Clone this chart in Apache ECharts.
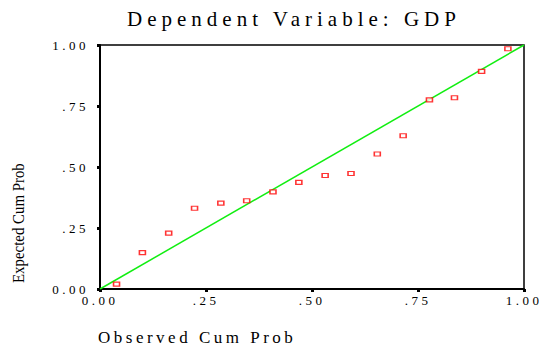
<!DOCTYPE html>
<html>
<head>
<meta charset="utf-8">
<script src="https://cdn.jsdelivr.net/npm/echarts@6/dist/echarts.min.js"></script>
<style>
  html, body { margin: 0; padding: 0; background: #fff; }
  #chart { width: 539px; height: 347px; }
</style>
</head>
<body>
<div id="chart"></div>
<script>
// Normal P-P plot of regression standardized residuals
const observedCumProb = [0.039, 0.100, 0.162, 0.223, 0.285, 0.346, 0.408, 0.469,
                         0.531, 0.592, 0.654, 0.715, 0.777, 0.836, 0.900, 0.962];
const expectedCumProb = [0.020, 0.149, 0.229, 0.331, 0.352, 0.362, 0.398, 0.437,
                         0.465, 0.473, 0.553, 0.628, 0.775, 0.784, 0.892, 0.985];
const xTickLabels = ['0.00', '.25', '.50', '.75', '1.00'];
const yTickLabels = ['0.00', '.25', '.50', '.75', '1.00'];
const referenceLine = [[0, 0], [1, 1]];

const titleText = 'Dependent Variable: GDP';
const xName = 'Observed Cum Prob';
const yName = 'Expected Cum Prob';

const serif = '"Liberation Serif", "Times New Roman", serif';

const chart = echarts.init(document.getElementById('chart'), null, { renderer: 'svg' });

const points = observedCumProb.map((x, i) => [x, expectedCumProb[i]]);

chart.setOption({
  animation: false,
  backgroundColor: '#fff',
  grid: {
    left: 100, right: 15, top: 45, bottom: 58,
    show: true, borderColor: '#000', borderWidth: 1.5, backgroundColor: 'transparent'
  },
  xAxis: {
    type: 'value', min: 0, max: 1, interval: 0.25,
    axisLine: { show: true, onZero: false, lineStyle: { color: '#000', width: 2 } },
    axisTick: { show: true, length: 3, lineStyle: { color: '#000', width: 3 } },
    splitLine: { show: false },
    axisLabel: {
      margin: 5, color: '#000', fontFamily: serif, fontSize: 13,
      formatter: v => xTickLabels[Math.round(v * 4)]
    }
  },
  yAxis: {
    type: 'value', min: 0, max: 1, interval: 0.25,
    axisLine: { show: true, onZero: false, lineStyle: { color: '#000', width: 2 } },
    axisTick: { show: true, length: 3, lineStyle: { color: '#000', width: 3 } },
    splitLine: { show: false },
    axisLabel: {
      margin: 11, color: '#000', fontFamily: serif, fontSize: 13,
      formatter: v => yTickLabels[Math.round(v * 4)]
    }
  },
  graphic: [
    {
      type: 'text', left: 127, top: 8,
      style: { text: titleText, font: '21px ' + serif, fill: '#000' }
    },
    {
      type: 'text', left: 98, top: 329,
      style: { text: xName, font: '17px ' + serif, fill: '#000' }
    },
    {
      type: 'text', x: 10, y: 283, rotation: Math.PI / 2,
      style: { text: yName, font: '16px ' + serif, fill: '#000', textAlign: 'left', textVerticalAlign: 'top' },
      scaleX: 0.93
    }
  ],
  series: [
    {
      type: 'line', data: referenceLine, symbol: 'none', silent: true,
      lineStyle: { color: '#11ee11', width: 1.5 }, z: 2
    },
    {
      type: 'scatter', data: points, symbol: 'rect', symbolSize: [6, 4],
      itemStyle: { color: '#fff', borderColor: '#ff0000', borderWidth: 1.3 }, z: 3
    }
  ]
});

// Spread out the lettering of the titles and tick labels
const spacing = { [titleText]: '5px', [xName]: '3.5px', [yName]: '0px' };
document.querySelectorAll('#chart text').forEach(t => {
  const s = t.textContent;
  if (s in spacing) t.style.letterSpacing = spacing[s];
  else if (xTickLabels.includes(s)) t.style.letterSpacing = '3.5px';
});
</script>
</body>
</html>
